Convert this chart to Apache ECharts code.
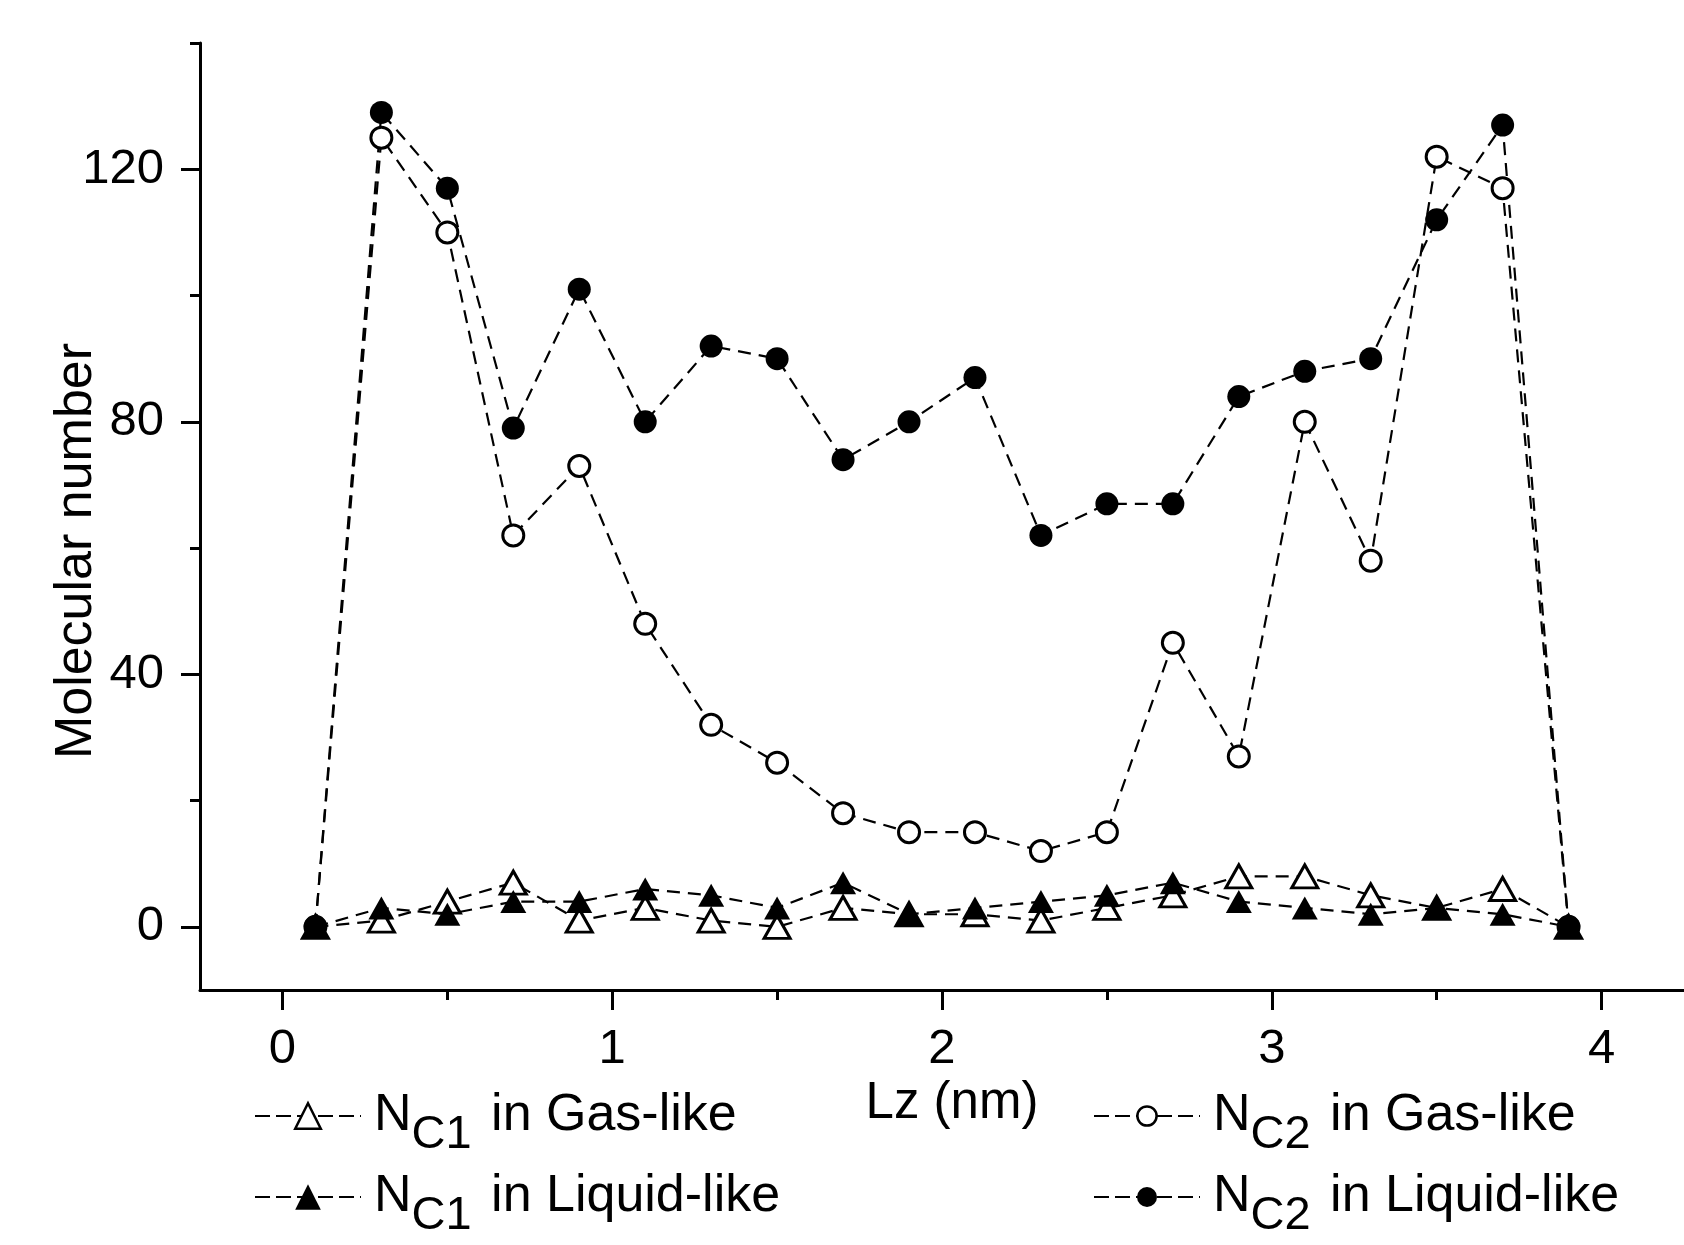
<!DOCTYPE html>
<html>
<head>
<meta charset="utf-8">
<script src="https://cdn.jsdelivr.net/npm/echarts@6/dist/echarts.min.js"></script>
<style>
html,body{margin:0;padding:0;background:#fff;}
#chart{width:1684px;height:1245px;}
</style>
</head>
<body>
<div id="chart"></div>
<script>
// ---- data ----
const lz = [0.1, 0.3, 0.5, 0.7, 0.9, 1.1, 1.3, 1.5, 1.7, 1.9, 2.1, 2.3, 2.5, 2.7, 2.9, 3.1, 3.3, 3.5, 3.7, 3.9];
const nc1Gas    = [0, 1, 4, 7, 1, 3, 1, 0, 3, 2, 2, 1, 3, 5, 8, 8, 5, 3, 6, 0];
const nc1Liquid = [0, 3, 2, 4, 4, 6, 5, 3, 7, 2, 3, 4, 5, 7, 4, 3, 2, 3, 2, 0];
const nc2Gas    = [0, 125, 110, 62, 73, 48, 32, 26, 18, 15, 15, 12, 15, 45, 27, 80, 58, 122, 117, 0];
const nc2Liquid = [0, 129, 117, 79, 101, 80, 92, 90, 74, 80, 87, 62, 67, 67, 84, 88, 90, 112, 127, 0];

const xMajorTicks = [0, 1, 2, 3, 4];
const xMinorTicks = [0.5, 1.5, 2.5, 3.5];
const yMajorTicks = [0, 40, 80, 120];
const yMinorTicks = [20, 60, 100, 140];

const seriesNames = ['NC1 in Gas-like', 'NC1 in Liquid-like', 'NC2 in Gas-like', 'NC2 in Liquid-like'];
const legendParts = {
  'NC1 in Gas-like':    ['N', 'C1', ' in Gas-like'],
  'NC1 in Liquid-like': ['N', 'C1', ' in Liquid-like'],
  'NC2 in Gas-like':    ['N', 'C2', ' in Gas-like'],
  'NC2 in Liquid-like': ['N', 'C2', ' in Liquid-like']
};

// ---- chart ----
const FONT = '"Liberation Sans", Arial, sans-serif';
const chart = echarts.init(document.getElementById('chart'), null, {renderer: 'canvas'});

const dash = [13, 8];
function pts(arr) { return lz.map((x, i) => [x, arr[i]]); }

function mkSeries(name, arr, symbol, size, filled) {
  return {
    name: name,
    type: 'line',
    data: pts(arr),
    symbol: symbol,
    symbolSize: size,
    showAllSymbol: true,
    lineStyle: {color: '#000', width: 2.2, type: dash},
    itemStyle: filled
      ? {color: '#000', borderColor: '#000', borderWidth: 0}
      : {color: '#fff', borderColor: '#000', borderWidth: 3},
    emphasis: {disabled: true},
    animation: false,
    z: 3
  };
}

const richLegend = {
  f: {fontSize: 52, fontFamily: FONT, color: '#000', padding: [0, 0, 0, 8]},
  n: {fontSize: 52, fontFamily: FONT, color: '#000'},
  s: {fontSize: 47, fontFamily: FONT, color: '#000', padding: [38, 5, 0, 0]}
};
function legendFmt(name) {
  const p = legendParts[name];
  return '{f|' + p[0] + '}{s|' + p[1] + '}{n|' + p[2] + '}';
}
function mkLegend(name, left, top, itemHeight, filled) {
  return {
    data: [name],
    left: left,
    top: top,
    padding: 0,
    orient: 'vertical',
    selectedMode: false,
    itemWidth: 106,
    itemHeight: itemHeight,
    formatter: legendFmt,
    textStyle: {rich: richLegend, color: '#000'},
    lineStyle: {color: '#000', width: 2, type: [15, 6]},
    itemStyle: filled
      ? {color: '#000', borderColor: '#000', borderWidth: 0}
      : {color: '#fff', borderColor: '#000', borderWidth: 2.5}
  };
}

const axisLine = {show: true, onZero: false, lineStyle: {color: '#000', width: 3}};

const option = {
  backgroundColor: '#fff',
  animation: false,
  grid: {left: 200, top: 43, width: 1486, height: 947, containLabel: false},
  xAxis: [
    {
      type: 'value', min: -0.25, max: 4.25, position: 'bottom',
      name: 'Lz (nm)', nameLocation: 'middle', nameGap: 86,
      nameTextStyle: {fontSize: 51, fontFamily: FONT, color: '#000', padding: [0, 0, 0, 20]},
      axisLine: axisLine,
      axisTick: {show: true, inside: false, length: 20, lineStyle: {color: '#000', width: 3}, customValues: xMajorTicks},
      axisLabel: {show: true, fontSize: 49, fontFamily: FONT, color: '#000', margin: 35, customValues: xMajorTicks},
      splitLine: {show: false}
    },
    {
      type: 'value', min: -0.25, max: 4.25, position: 'bottom', offset: 0,
      axisLine: {show: false, onZero: false},
      axisTick: {show: true, inside: false, length: 10, lineStyle: {color: '#000', width: 3}, customValues: xMinorTicks},
      axisLabel: {show: false},
      splitLine: {show: false}
    }
  ],
  yAxis: [
    {
      type: 'value', min: -10, max: 140, position: 'left',
      axisLine: axisLine,
      axisTick: {show: true, inside: false, length: 19, lineStyle: {color: '#000', width: 3}, customValues: yMajorTicks},
      axisLabel: {show: true, fontSize: 49, fontFamily: FONT, color: '#000', margin: 36, customValues: yMajorTicks},
      splitLine: {show: false}
    },
    {
      type: 'value', min: -10, max: 140, position: 'left', offset: 0,
      axisLine: {show: false, onZero: false},
      axisTick: {show: true, inside: false, length: 10, lineStyle: {color: '#000', width: 3}, customValues: yMinorTicks},
      axisLabel: {show: false},
      splitLine: {show: false}
    }
  ],
  legend: [
    mkLegend(seriesNames[0], 254, 1090, 32, false),
    mkLegend(seriesNames[1], 254, 1171, 32, true),
    mkLegend(seriesNames[2], 1093, 1090, 24, false),
    mkLegend(seriesNames[3], 1093, 1171, 25, true)
  ],
  graphic: [
    {
      type: 'text', x: 77, y: 551, rotation: Math.PI / 2,
      style: {text: 'Molecular number', fontSize: 52, fontFamily: FONT, fill: '#000', align: 'center', verticalAlign: 'middle'}
    }
  ],
  series: [
    mkSeries(seriesNames[0], nc1Gas, 'triangle', [26, 23], false),
    mkSeries(seriesNames[1], nc1Liquid, 'triangle', [26, 23], true),
    mkSeries(seriesNames[2], nc2Gas, 'circle', 21, false),
    mkSeries(seriesNames[3], nc2Liquid, 'circle', 23, true)
  ]
};
chart.setOption(option);
</script>
</body>
</html>
